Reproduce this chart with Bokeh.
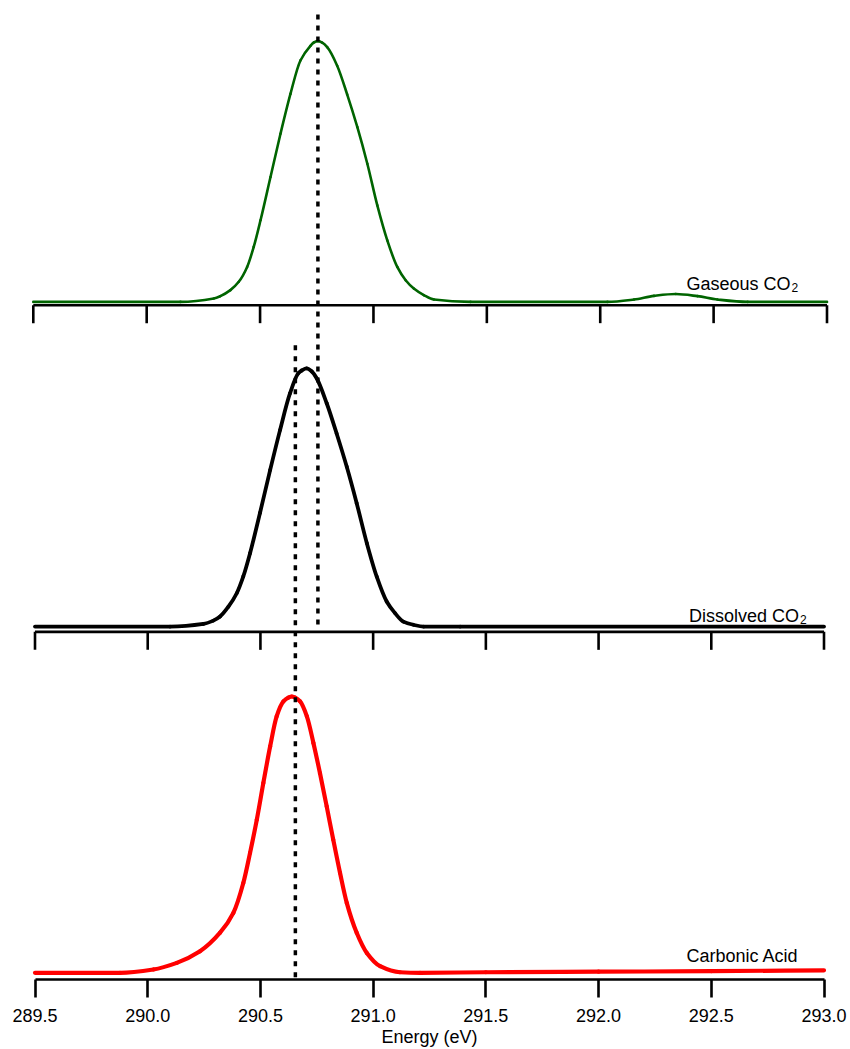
from bokeh.plotting import figure
from bokeh.models import Range1d, LinearAxis, FixedTicker, NumeralTickFormatter
from bokeh.core.properties import value
from bokeh.embed import file_html
from bokeh.resources import INLINE

# ---- spectra (energy in eV, normalised intensity) ----
gas_energy = [289.500, 290.149, 290.296, 290.325, 290.369, 290.406, 290.443, 290.472,
              290.502, 290.546, 290.590, 290.634, 290.678, 290.722, 290.737, 290.756,
              290.774, 290.796, 290.840, 290.884, 290.929, 290.973, 291.017, 291.061,
              291.105, 291.142, 291.178, 291.222, 291.267, 291.428, 292.032, 292.149,
              292.237, 292.333, 292.429, 292.517, 292.650, 293.000]
gas_intensity = [0.000, 0.000, 0.013, 0.022, 0.045, 0.077, 0.134, 0.211,
                 0.313, 0.479, 0.645, 0.798, 0.926, 0.982, 0.995, 1.000,
                 0.994, 0.977, 0.906, 0.796, 0.670, 0.530, 0.370, 0.236,
                 0.134, 0.083, 0.051, 0.026, 0.009, 0.000, 0.000, 0.009,
                 0.023, 0.030, 0.022, 0.009, 0.000, 0.000]

dissolved_energy = [289.500, 290.099, 290.247, 290.291, 290.321, 290.358, 290.395, 290.424,
                    290.454, 290.498, 290.543, 290.587, 290.631, 290.668, 290.683, 290.705,
                    290.728, 290.750, 290.794, 290.838, 290.883, 290.927, 290.972, 291.016,
                    291.060, 291.097, 291.134, 291.178, 291.224, 291.386, 293.000]
dissolved_intensity = [0.000, 0.000, 0.010, 0.023, 0.039, 0.077, 0.129, 0.194,
                       0.284, 0.440, 0.606, 0.761, 0.903, 0.981, 0.992, 1.000,
                       0.988, 0.961, 0.865, 0.748, 0.619, 0.478, 0.323, 0.193,
                       0.097, 0.052, 0.019, 0.007, 0.000, 0.000, 0.000]

acid_energy = [289.500, 289.877, 290.025, 290.129, 290.232, 290.321, 290.380, 290.424,
               290.454, 290.484, 290.513, 290.543, 290.572, 290.602, 290.624, 290.639,
               290.654, 290.676, 290.706, 290.735, 290.764, 290.794, 290.823, 290.853,
               290.883, 290.927, 290.972, 291.031, 291.119, 291.208, 291.500, 292.000,
               292.500, 293.000]
acid_intensity = [0.000, 0.000, 0.012, 0.036, 0.078, 0.145, 0.217, 0.325,
                  0.434, 0.554, 0.687, 0.819, 0.928, 0.982, 0.996, 1.000,
                  0.996, 0.982, 0.928, 0.832, 0.723, 0.602, 0.482, 0.362,
                  0.253, 0.145, 0.072, 0.024, 0.002, 0.000, 0.002, 0.004,
                  0.006, 0.009]

# peak reference energies marked with dotted lines
gas_peak = 290.755
acid_peak = 290.655

energy_ticks = [289.5, 290.0, 290.5, 291.0, 291.5, 292.0, 292.5, 293.0]

# ---- page layout (pixels) ----
W, H = 850, 1049
FRAME_L, FRAME_R = 28, 830
FRAME_T, FRAME_B = 0, 980


def energy_range(px0, px1, e0=energy_ticks[0], e1=energy_ticks[-1]):
    k = (e1 - e0) / (px1 - px0)
    return Range1d(e0 - (px0 - FRAME_L) * k, e1 + (FRAME_R - px1) * k)


def intensity_range(base_row, peak_row):
    span = base_row - peak_row
    return Range1d((base_row - FRAME_B) / span, (base_row - FRAME_T) / span)


def smooth_segments(xs, ys):
    """Monotone cubic (Fritsch-Carlson) pieces through the points, as Bezier segments."""
    n = len(xs)
    h = [xs[i + 1] - xs[i] for i in range(n - 1)]
    d = [(ys[i + 1] - ys[i]) / h[i] for i in range(n - 1)]
    m = [0.0] * n
    m[0], m[-1] = d[0], d[-1]
    for i in range(1, n - 1):
        if d[i - 1] * d[i] <= 0:
            m[i] = 0.0
        else:
            w1 = 2 * h[i] + h[i - 1]
            w2 = h[i] + 2 * h[i - 1]
            m[i] = (w1 + w2) / (w1 / d[i - 1] + w2 / d[i])
    seg = dict(x0=[], y0=[], x1=[], y1=[], cx0=[], cy0=[], cx1=[], cy1=[])
    for i in range(n - 1):
        seg["x0"].append(xs[i]); seg["y0"].append(ys[i])
        seg["x1"].append(xs[i + 1]); seg["y1"].append(ys[i + 1])
        seg["cx0"].append(xs[i] + h[i] / 3); seg["cy0"].append(ys[i] + m[i] * h[i] / 3)
        seg["cx1"].append(xs[i + 1] - h[i] / 3); seg["cy1"].append(ys[i + 1] - m[i + 1] * h[i] / 3)
    return seg


p = figure(width=W, height=H, output_backend="svg", toolbar_location=None,
           x_axis_location=None, y_axis_location=None,
           x_range=energy_range(32.8, 826.5),
           y_range=Range1d(FRAME_B, FRAME_T),
           min_border_left=FRAME_L, min_border_right=W - FRAME_R,
           min_border_top=FRAME_T, min_border_bottom=H - FRAME_B)
p.outline_line_color = None
p.background_fill_color = "white"
p.border_fill_color = "white"
p.xgrid.visible = False
p.ygrid.visible = False

p.extra_x_ranges = {"lower": energy_range(34.5, 823.5),
                    "px": Range1d(FRAME_L, FRAME_R)}
p.extra_y_ranges = {"gas": intensity_range(301.7, 40.7),
                    "dis": intensity_range(626.7, 368.3),
                    "acid": intensity_range(973.3, 696.7)}

FONT = "Liberation Sans"

# ---- spectra ----
p.bezier(**smooth_segments(gas_energy, gas_intensity), y_range_name="gas",
         line_color="#006400", line_width=2.6, line_cap="round")
p.bezier(**smooth_segments(dissolved_energy, dissolved_intensity),
         y_range_name="dis", x_range_name="lower",
         line_color="black", line_width=3.8, line_cap="round")
p.bezier(**smooth_segments(acid_energy, acid_intensity),
         y_range_name="acid", x_range_name="lower",
         line_color="#ff0000", line_width=4.2, line_cap="round")


# ---- axes of the upper two panels ----
def panel_axis(row, x_range_name):
    kw = {} if x_range_name is None else {"x_range_name": x_range_name}
    p.segment(x0=[energy_ticks[0]], y0=[row], x1=[energy_ticks[-1]], y1=[row],
              line_color="black", line_width=2.6, **kw)
    p.segment(x0=energy_ticks, y0=[row] * len(energy_ticks),
              x1=energy_ticks, y1=[row + 18] * len(energy_ticks),
              line_color="black", line_width=2.6, line_cap="butt", **kw)


panel_axis(305, None)
panel_axis(632, "lower")

# ---- bottom axis ----
ax = LinearAxis(x_range_name="lower", ticker=FixedTicker(ticks=energy_ticks),
                formatter=NumeralTickFormatter(format="0.0"),
                bounds=(energy_ticks[0], energy_ticks[-1]),
                axis_label="Energy (eV)")
ax.axis_line_width = 2.6
ax.major_tick_line_width = 2.6
ax.major_tick_out = 18
ax.major_tick_in = 0
ax.minor_tick_out = 0
ax.minor_tick_in = 0
ax.major_label_standoff = 11
ax.axis_label_standoff = 2
ax.major_label_text_font = FONT
ax.major_label_text_font_size = "18px"
ax.major_label_text_color = "black"
ax.axis_label_text_font = FONT
ax.axis_label_text_font_size = "18px"
ax.axis_label_text_font_style = "normal"
ax.axis_label_text_color = "black"
p.add_layout(ax, "below")

# ---- dotted peak markers ----
p.segment(x0=[gas_peak, acid_peak], y0=[14, 345], x1=[gas_peak, acid_peak], y1=[630, 980],
          x_range_name="lower", line_color="black", line_width=3.5,
          line_dash="5 6", line_cap="butt")

# ---- panel labels ----
p.text(x=[790, 798.5], y=[283.3, 616.0], text=["Gaseous CO", "Dissolved CO"],
       x_range_name="px", text_align="right", text_baseline="alphabetic",
       text_font=value(FONT), text_font_size="18px", text_color="black")
p.text(x=[791, 799.5], y=[287.0, 620.0], text=["2", "2"],
       x_range_name="px", text_align="left", text_baseline="alphabetic",
       text_font=value(FONT), text_font_size="12px", text_color="black")
p.text(x=[686], y=[956.0], text=["Carbonic Acid"],
       x_range_name="px", text_align="left", text_baseline="alphabetic",
       text_font=value(FONT), text_font_size="18px", text_color="black")

open("out.html", "w").write(file_html(p, INLINE))
